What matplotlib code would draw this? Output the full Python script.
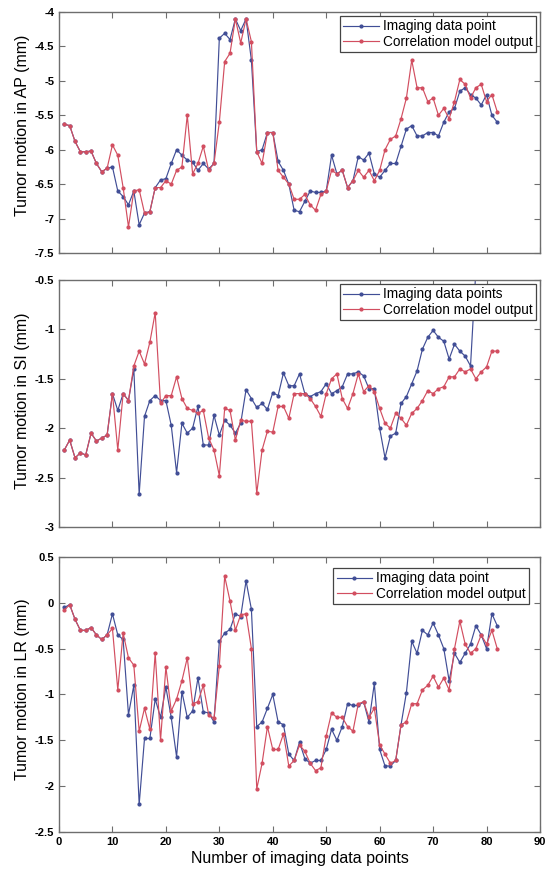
import numpy as np
import matplotlib
matplotlib.use("Agg")
import matplotlib.pyplot as plt
from matplotlib.ticker import FuncFormatter, MultipleLocator

plt.rcParams["axes.unicode_minus"] = False
plt.rcParams["font.family"] = ["Liberation Sans", "DejaVu Sans"]

# ---- data: tumour position per imaging data point (mm) ----
ap_imaging = [-5.63, -5.65, -5.88, -6.03, -6.03, -6.02, -6.2, -6.32, -6.27, -6.25,
              -6.6, -6.68, -6.8, -6.6, -7.09, -6.92, -6.9, -6.55, -6.44, -6.42,
              -6.2, -6.0, -6.08, -6.15, -6.18, -6.3, -6.2, -6.28, -6.2, -4.38,
              -4.31, -4.4, -4.1, -4.27, -4.1, -4.7, -6.03, -6.0, -5.75, -5.75,
              -6.17, -6.3, -6.5, -6.88, -6.9, -6.75, -6.6, -6.62, -6.62, -6.6,
              -6.08, -6.35, -6.3, -6.55, -6.45, -6.1, -6.15, -6.05, -6.35, -6.4,
              -6.3, -6.2, -6.2, -5.95, -5.7, -5.65, -5.8, -5.8, -5.75, -5.75,
              -5.8, -5.6, -5.45, -5.4, -5.15, -5.1, -5.2, -5.25, -5.35, -5.2,
              -5.5, -5.6]
ap_model = [-5.63, -5.65, -5.88, -6.03, -6.03, -6.02, -6.2, -6.32, -6.27, -5.93,
            -6.08, -6.55, -7.12, -6.6, -6.58, -6.92, -6.9, -6.55, -6.55, -6.45,
            -6.5, -6.3, -6.25, -5.5, -6.35, -6.2, -5.95, -6.3, -6.2, -5.6,
            -4.72, -4.6, -4.1, -4.45, -4.1, -4.43, -6.03, -6.2, -5.75, -5.75,
            -6.3, -6.4, -6.5, -6.72, -6.72, -6.65, -6.8, -6.88, -6.65, -6.6,
            -6.3, -6.35, -6.3, -6.55, -6.45, -6.3, -6.4, -6.3, -6.45, -6.3,
            -6.0, -5.85, -5.8, -5.55, -5.25, -4.7, -5.1, -5.1, -5.3, -5.25,
            -5.5, -5.4, -5.55, -5.3, -4.98, -5.05, -5.25, -5.1, -5.05, -5.3,
            -5.2, -5.45]

si_imaging = [-2.22, -2.12, -2.3, -2.25, -2.27, -2.05, -2.13, -2.1, -2.07, -1.65,
              -1.82, -1.65, -1.72, -1.4, -2.67, -1.88, -1.72, -1.67, -1.72, -1.72,
              -1.97, -2.45, -1.95, -2.05, -2.0, -1.78, -2.17, -2.17, -1.87, -2.07,
              -1.92, -1.97, -2.05, -1.95, -1.61, -1.7, -1.79, -1.75, -1.81, -1.64,
              -1.67, -1.44, -1.57, -1.57, -1.45, -1.65, -1.68, -1.65, -1.63, -1.55,
              -1.65, -1.62, -1.58, -1.45, -1.45, -1.43, -1.47, -1.6, -1.6, -2.0,
              -2.3, -2.08, -2.05, -1.75, -1.68, -1.55, -1.42, -1.2, -1.08, -1.01,
              -1.08, -1.12, -1.3, -1.15, -1.22, -1.27, -1.37, -0.4]
si_model = [-2.22, -2.12, -2.3, -2.25, -2.27, -2.05, -2.13, -2.1, -2.07, -1.65,
            -2.22, -1.65, -1.72, -1.37, -1.22, -1.35, -1.13, -0.83, -1.75, -1.67,
            -1.67, -1.48, -1.7, -1.8, -1.82, -1.85, -1.82, -2.1, -2.22, -2.48,
            -1.8, -1.82, -2.12, -1.92, -1.93, -1.93, -2.66, -2.22, -2.03, -2.04,
            -1.78, -1.78, -1.9, -1.65, -1.65, -1.65, -1.7, -1.78, -1.88, -1.65,
            -1.5, -1.45, -1.7, -1.8, -1.65, -1.45, -1.63, -1.57, -1.63, -1.8,
            -1.95, -2.0, -1.85, -1.9, -1.97, -1.85, -1.8, -1.72, -1.62, -1.65,
            -1.6, -1.58, -1.48, -1.48, -1.4, -1.43, -1.4, -1.5, -1.43, -1.38,
            -1.22, -1.22]

lr_imaging = [-0.05, -0.02, -0.18, -0.3, -0.3, -0.27, -0.35, -0.4, -0.35, -0.12,
              -0.35, -0.4, -1.22, -0.9, -2.2, -1.48, -1.48, -1.05, -1.25, -0.92,
              -1.25, -1.68, -0.97, -1.25, -1.18, -0.82, -1.19, -1.2, -1.3, -0.42,
              -0.33, -0.29, -0.12, -0.15, 0.24, -0.07, -1.35, -1.3, -1.15, -1.0,
              -1.3, -1.33, -1.65, -1.72, -1.52, -1.7, -1.75, -1.72, -1.72, -1.6,
              -1.38, -1.5, -1.35, -1.1, -1.12, -1.12, -1.08, -1.3, -0.88, -1.6,
              -1.78, -1.78, -1.72, -1.33, -0.98, -0.42, -0.55, -0.3, -0.35, -0.22,
              -0.35, -0.5, -0.85, -0.55, -0.65, -0.55, -0.45, -0.25, -0.35, -0.5,
              -0.12, -0.25]
lr_model = [-0.08, -0.02, -0.18, -0.3, -0.3, -0.27, -0.35, -0.4, -0.35, -0.28,
            -0.95, -0.33, -0.6, -0.68, -1.4, -1.15, -1.38, -0.55, -1.5, -0.7,
            -1.18, -1.05, -0.85, -0.6, -1.1, -1.08, -0.9, -1.22, -1.26, -0.69,
            0.29, 0.02, -0.3, -0.13, -0.12, -0.5, -2.03, -1.75, -1.35, -1.6,
            -1.6, -1.43, -1.78, -1.72, -1.55, -1.62, -1.75, -1.83, -1.8, -1.45,
            -1.2, -1.25, -1.25, -1.35, -1.4, -1.1, -1.08, -1.25, -1.15, -1.55,
            -1.65, -1.75, -1.72, -1.33, -1.3, -1.1, -1.1, -0.95, -0.9, -0.8,
            -0.92, -0.82, -0.95, -0.5, -0.2, -0.45, -0.55, -0.5, -0.35, -0.45,
            -0.3, -0.5]

panels = [
    ("Tumor motion in AP (mm)", ap_imaging, ap_model, "Imaging data point", (-7.5, -4.0)),
    ("Tumor motion in SI (mm)", si_imaging, si_model, "Imaging data points", (-3.0, -0.5)),
    ("Tumor motion in LR (mm)", lr_imaging, lr_model, "Imaging data point", (-2.5, 0.5)),
]

# axes rectangles in pixels (left, top, right, bottom) and y-label centres
W, H = 546, 875
boxes = [(59, 12, 540, 253), (59, 280, 540, 527), (59, 557, 540, 832)]
label_y = [0.53, 0.51, 0.52]

blue = "#414e96"
red = "#d24e60"
frame = "#6e6e6e"

fig = plt.figure(figsize=(W / 100, H / 100), dpi=100)
fmt = FuncFormatter(lambda v, _: f"{v:g}")

for i, ((ylab, img, mdl, img_label, ylim), (x0, y0, x1, y1)) in enumerate(zip(panels, boxes)):
    ax = fig.add_axes([x0 / W, 1 - y1 / H, (x1 - x0) / W, (y1 - y0) / H])
    xi = np.arange(1, len(img) + 1)
    xm = np.arange(1, len(mdl) + 1)
    ax.plot(xi, img, color=blue, lw=0.85, marker=".", ms=4, label=img_label, zorder=2)
    ax.plot(xm, mdl, color=red, lw=0.85, marker=".", ms=4,
            label="Correlation model output", zorder=2)
    ax.set_xlim(0, 90)
    ax.set_ylim(*ylim)
    ax.xaxis.set_major_locator(MultipleLocator(10))
    ax.yaxis.set_major_locator(MultipleLocator(0.5))
    ax.yaxis.set_major_formatter(fmt)
    ax.tick_params(direction="in", top=True, right=True, length=4, width=0.8,
                   color=frame, labelsize=8)
    for lab in ax.get_yticklabels() + ax.get_xticklabels():
        lab.set_fontweight("bold")
    if i < 2:
        ax.set_xticklabels([])
    else:
        ax.set_xlabel("Number of imaging data points", fontsize=11.5, labelpad=3)
    for sp in ax.spines.values():
        sp.set_color(frame)
        sp.set_linewidth(1.0)
    ax.set_ylabel(ylab, fontsize=11.5)
    ax.yaxis.set_label_coords(-0.06, label_y[i])
    leg = ax.legend(loc="upper right", fontsize=9.8, frameon=True, fancybox=False,
                    framealpha=1, facecolor="white", edgecolor="#444444",
                    borderpad=0.25, labelspacing=0.1, handlelength=2.6,
                    handletextpad=0.3, borderaxespad=0.3 if i != 2 else 0.8)
    leg.get_frame().set_linewidth(0.9)
    leg.set_zorder(10)

fig.savefig("out.png", dpi=100, facecolor="white")
